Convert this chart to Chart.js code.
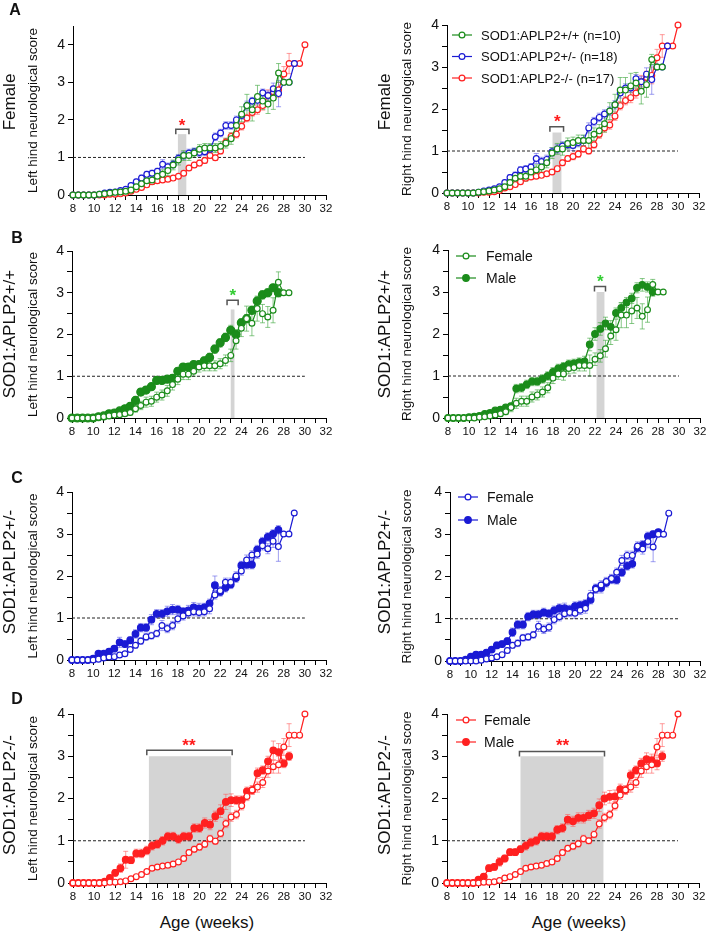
<!DOCTYPE html>
<html>
<head>
<meta charset="utf-8">
<script src="https://cdn.jsdelivr.net/npm/chart.js@4.4.1/dist/chart.umd.min.js"></script>
<style>
body { margin: 0; background: #fff; }
#fig { position: relative; width: 709px; height: 931px; overflow: hidden; font-family: "Liberation Sans", Arial, sans-serif; color: #111; }
#fig canvas { position: absolute; }
.lbl { position: absolute; white-space: nowrap; transform: translate(-50%, -50%); line-height: 1; }
.rot { transform: translate(-50%, -50%) rotate(-90deg); }
.letter { font-weight: bold; font-size: 16px; }
</style>
</head>
<body>
<div id="fig"></div>
<script>
// weeks of age, one point every half week
const weeks = [8, 8.5, 9, 9.5, 10, 10.5, 11, 11.5, 12, 12.5, 13, 13.5, 14, 14.5, 15, 15.5, 16, 16.5, 17, 17.5,
  18, 18.5, 19, 19.5, 20, 20.5, 21, 21.5, 22, 22.5, 23, 23.5, 24, 24.5, 25, 25.5, 26, 26.5, 27, 27.5,
  28, 28.5, 29, 29.5, 30];

// SOD1:APLP2+/+  (mean score / SEM)
const wtF_L = [0,0,0,0,0,0.02,0.03,0.05,0.07,0.08,0.1,0.13,0.22,0.3,0.38,0.4,0.5,0.55,0.65,0.8,0.93,1.05,1.05,1.12,1.22,1.25,1.25,1.25,1.3,1.38,1.5,1.85,2.15,2.38,2.27,2.62,2.5,2.42,2.58,3.25,3.0,3.0];
const wtF_L_err = [0,0,0,0,0,0.02,0.03,0.03,0.04,0.04,0.05,0.06,0.08,0.1,0.12,0.12,0.12,0.12,0.13,0.13,0.13,0.13,0.13,0.12,0.12,0.12,0.12,0.12,0.12,0.13,0.15,0.2,0.2,0.3,0.3,0.3,0.22,0.25,0.3,0.25,0,0];
const wtM_L = [0,0,0,0,0,0.03,0.05,0.1,0.12,0.17,0.22,0.28,0.42,0.62,0.67,0.75,0.9,0.9,0.93,0.95,1.12,1.22,1.22,1.28,1.28,1.37,1.45,1.65,1.8,1.93,2.1,2.0,2.28,2.38,2.58,2.8,2.95,3.0,3.12,3.0];
const wtM_L_err = [0,0,0,0,0,0.02,0.03,0.04,0.05,0.05,0.06,0.07,0.08,0.08,0.08,0.08,0.08,0.08,0.08,0.08,0.08,0.08,0.08,0.08,0.08,0.09,0.1,0.1,0.1,0.1,0.12,0.12,0.1,0.1,0.1,0.1,0.1,0.1,0.08,0.1];
const wtF_R = [0,0,0,0,0,0,0.02,0.03,0.05,0.07,0.1,0.15,0.25,0.35,0.4,0.4,0.5,0.55,0.62,0.72,0.95,1.05,1.05,1.18,1.2,1.25,1.25,1.25,1.4,1.48,1.65,1.95,2.1,2.45,2.45,2.55,2.62,2.42,2.58,3.18,3.0,3.0];
const wtF_R_err = [0,0,0,0,0,0,0.02,0.03,0.04,0.05,0.06,0.07,0.1,0.12,0.12,0.12,0.12,0.12,0.12,0.12,0.13,0.13,0.15,0.13,0.13,0.13,0.13,0.25,0.15,0.15,0.2,0.2,0.25,0.3,0.3,0.3,0.25,0.3,0.3,0.12,0,0];
const wtM_R = [0,0,0,0,0.02,0.03,0.05,0.1,0.12,0.18,0.2,0.25,0.28,0.7,0.72,0.8,0.87,0.87,0.93,1.0,1.1,1.18,1.22,1.28,1.3,1.33,1.35,1.75,2.0,2.12,2.25,2.17,2.5,2.62,2.75,2.85,3.1,3.17,3.12,3.0];
const wtM_R_err = [0,0,0,0,0.02,0.02,0.03,0.04,0.05,0.05,0.06,0.06,0.07,0.1,0.1,0.1,0.1,0.1,0.1,0.1,0.1,0.1,0.1,0.1,0.1,0.1,0.12,0.15,0.15,0.15,0.15,0.15,0.12,0.12,0.12,0.12,0.12,0.15,0.12,0.1];

// SOD1:APLP2+/-
const hetF_L = [0,0,0,0,0,0.02,0.05,0.07,0.08,0.12,0.15,0.25,0.35,0.45,0.55,0.58,0.63,0.82,0.75,0.82,0.98,1.05,1.12,1.15,1.13,1.15,1.22,1.55,1.65,1.85,1.85,2.0,2.12,2.38,2.5,2.52,2.72,2.65,2.83,2.7,3.0,3.0,3.5];
const hetF_L_err = [0,0,0,0,0,0.02,0.03,0.03,0.04,0.05,0.05,0.06,0.07,0.08,0.08,0.08,0.08,0.12,0.1,0.1,0.1,0.1,0.1,0.1,0.1,0.1,0.12,0.1,0.1,0.1,0.1,0.1,0.1,0.12,0.1,0.1,0.1,0.12,0.15,0.35,0,0,0];
const hetM_L = [0,0,0,0,0.03,0.15,0.15,0.2,0.27,0.42,0.38,0.47,0.62,0.77,0.77,0.96,1.1,1.1,1.16,1.2,1.2,1.15,1.18,1.25,1.23,1.25,1.35,1.78,1.62,1.72,1.8,1.95,2.25,2.27,2.27,2.63,2.82,2.93,3.0,3.1];
const hetM_L_err = [0,0,0,0,0.02,0.04,0.05,0.05,0.06,0.12,0.08,0.08,0.1,0.1,0.1,0.12,0.1,0.1,0.12,0.12,0.1,0.1,0.12,0.12,0.12,0.1,0.1,0.22,0.1,0.1,0.1,0.1,0.1,0.1,0.1,0.1,0.1,0.1,0.1,0.1];
const hetF_R = [0,0,0,0,0,0,0.02,0.05,0.07,0.1,0.15,0.25,0.37,0.42,0.55,0.57,0.62,0.82,0.75,0.8,0.98,1.05,1.12,1.15,1.13,1.2,1.25,1.55,1.7,1.8,1.88,1.95,2.1,2.38,2.5,2.5,2.72,2.65,2.83,2.7,3.0,3.0,3.5];
const hetF_R_err = [0,0,0,0,0,0,0.02,0.03,0.04,0.05,0.05,0.06,0.07,0.08,0.08,0.08,0.08,0.12,0.1,0.1,0.1,0.1,0.1,0.1,0.12,0.1,0.12,0.12,0.1,0.1,0.1,0.1,0.1,0.12,0.1,0.1,0.1,0.12,0.15,0.35,0,0,0];
const hetM_R = [0,0,0,0.03,0.1,0.15,0.15,0.2,0.27,0.37,0.4,0.47,0.68,0.86,0.86,1.05,1.1,1.1,1.15,1.12,1.2,1.25,1.25,1.22,1.3,1.32,1.35,1.45,1.72,1.73,1.85,1.93,1.92,2.1,2.25,2.3,2.68,2.75,2.95,3.0,3.05];
const hetM_R_err = [0,0,0,0.02,0.04,0.05,0.05,0.05,0.06,0.08,0.08,0.08,0.1,0.1,0.1,0.1,0.1,0.1,0.1,0.1,0.1,0.1,0.12,0.1,0.1,0.1,0.1,0.1,0.1,0.12,0.1,0.1,0.1,0.1,0.1,0.1,0.1,0.1,0.1,0.08,0.05];

// SOD1:APLP2-/-
const koF_L = [0,0,0,0,0,0,0,0.02,0.02,0.03,0.05,0.1,0.15,0.2,0.27,0.35,0.38,0.4,0.42,0.45,0.5,0.58,0.72,0.8,0.85,0.92,1.05,0.99,1.17,1.41,1.56,1.62,1.83,2.05,2.2,2.27,2.38,2.65,2.75,2.8,3.22,3.5,3.5,3.5,4.0];
const koF_L_err = [0,0,0,0,0,0,0,0.02,0.02,0.02,0.03,0.04,0.04,0.05,0.05,0.05,0.05,0.05,0.05,0.05,0.05,0.06,0.07,0.07,0.08,0.08,0.08,0.07,0.08,0.1,0.1,0.1,0.1,0.1,0.1,0.12,0.12,0.15,0.15,0.2,0.2,0.27,0,0,0];
const koM_L = [0,0,0,0,0,0,0.03,0.12,0.24,0.35,0.55,0.54,0.7,0.7,0.77,0.88,0.92,1.0,1.1,1.1,1.04,1.1,1.1,1.3,1.3,1.42,1.38,1.58,1.7,1.92,1.96,1.96,1.96,2.17,2.2,2.6,2.67,2.88,3.14,3.1,2.83,3.0];
const koM_L_err = [0,0,0,0,0,0,0.03,0.06,0.08,0.1,0.2,0.08,0.1,0.1,0.1,0.1,0.1,0.1,0.1,0.1,0.1,0.1,0.1,0.1,0.1,0.12,0.12,0.12,0.15,0.18,0.15,0.1,0.1,0.1,0.1,0.12,0.1,0.12,0.22,0.2,0.1,0.1];
const koF_R = [0,0,0,0,0,0,0,0.02,0.02,0.03,0.06,0.12,0.15,0.2,0.27,0.35,0.38,0.4,0.42,0.46,0.5,0.58,0.72,0.82,0.87,0.93,1.05,1.0,1.15,1.4,1.55,1.62,1.83,2.08,2.2,2.27,2.38,2.65,2.75,2.8,3.22,3.5,3.5,3.5,4.0];
const koF_R_err = [0,0,0,0,0,0,0,0.02,0.02,0.02,0.03,0.04,0.04,0.05,0.05,0.05,0.05,0.05,0.05,0.05,0.05,0.06,0.07,0.07,0.08,0.08,0.08,0.07,0.08,0.1,0.1,0.1,0.1,0.1,0.1,0.12,0.12,0.15,0.15,0.2,0.2,0.27,0,0,0];
const koM_R = [0,0,0,0,0,0,0.08,0.15,0.35,0.38,0.5,0.58,0.73,0.73,0.8,0.88,0.96,1.0,1.1,1.1,1.1,1.26,1.3,1.5,1.46,1.54,1.54,1.6,1.65,1.84,2.0,2.04,2.05,2.22,2.2,2.55,2.67,2.83,2.93,2.9,2.83,3.0];
const koM_R_err = [0,0,0,0,0,0,0.04,0.06,0.08,0.08,0.1,0.08,0.08,0.08,0.08,0.1,0.1,0.1,0.1,0.1,0.1,0.1,0.1,0.12,0.12,0.12,0.12,0.12,0.12,0.15,0.15,0.15,0.15,0.12,0.1,0.12,0.1,0.12,0.15,0.15,0.15,0.12];

// threshold line (score 1) and significance windows
const refX = [8, 30];
const refY = 1;
const sigAL = { x0: 17.95, x1: 18.75, top: 1.62, b0: 17.75, b1: 19.0, by: 1.75, sx: 18.35, sy: 1.97, mark: '*' };
const sigAR = { x0: 18.05, x1: 18.9, top: 1.44, b0: 17.8, b1: 19.1, by: 1.58, sx: 18.5, sy: 1.8, mark: '*' };
const sigBL = { x0: 23.0, x1: 23.35, top: 2.6, b0: 22.65, b1: 23.7, by: 2.82, sx: 23.2, sy: 3.04, mark: '*' };
const sigBR = { x0: 22.15, x1: 22.9, top: 3.0, b0: 21.95, b1: 23.0, by: 3.13, sx: 22.5, sy: 3.35, mark: '*' };
const sigDL = { x0: 15.2, x1: 23.0, top: 3.0, b0: 15.0, b1: 23.1, by: 3.14, sx: 19.0, sy: 3.37, mark: '**' };
const sigDR = { x0: 15.0, x1: 22.9, top: 3.0, b0: 14.9, b1: 23.0, by: 3.11, sx: 19.0, sy: 3.35, mark: '**' };

const GREEN = '#1b8c1b', BLUE = '#1a1ad4', RED = '#ff2020';
const ERR = { [GREEN]: 'rgba(70,170,70,0.65)', [BLUE]: 'rgba(80,80,230,0.55)', [RED]: 'rgba(255,90,90,0.6)' };
const STAR = { [GREEN]: '#33cc33', [RED]: '#ff1a1a' };
const FONT = '"Liberation Sans", Arial, sans-serif';

Chart.defaults.font.family = FONT;
Chart.defaults.color = '#111';

function series(label, vals, errs, color, filled, r) {
  return {
    label: label,
    data: vals.map((v, i) => ({ x: weeks[i], y: v })),
    err: errs,
    errColor: ERR[color],
    borderColor: color,
    borderWidth: 1.2,
    pointRadius: r || 2.9,
    pointHoverRadius: r || 2.9,
    pointBorderWidth: 1.2,
    pointBackgroundColor: filled ? color : '#fff',
    pointBorderColor: color,
    tension: 0,
    clip: false
  };
}

function refLine() {
  return {
    label: '', data: refX.map(x => ({ x: x, y: refY })),
    borderColor: '#222', borderWidth: 1, borderDash: [3, 2], pointRadius: 0
  };
}

// gray window, bracket and star
const sigPlugin = {
  id: 'sig',
  beforeDatasetsDraw(chart, args, o) {
    const s = o.win;
    if (!s) return;
    const { ctx, scales: { x, y } } = chart;
    ctx.save();
    ctx.fillStyle = '#d4d4d4';
    const l = x.getPixelForValue(s.x0), r = x.getPixelForValue(s.x1);
    const t = y.getPixelForValue(s.top), b = y.getPixelForValue(0);
    ctx.fillRect(l, t, r - l, b - t);
    const bl = x.getPixelForValue(s.b0), br = x.getPixelForValue(s.b1), by = y.getPixelForValue(s.by);
    ctx.strokeStyle = '#555';
    ctx.lineWidth = 1.5;
    ctx.beginPath();
    ctx.moveTo(bl, by + 5); ctx.lineTo(bl, by); ctx.lineTo(br, by); ctx.lineTo(br, by + 5);
    ctx.stroke();
    ctx.fillStyle = o.starColor;
    ctx.font = 'bold 17px ' + FONT;
    ctx.textAlign = 'center';
    ctx.textBaseline = 'alphabetic';
    ctx.fillText(s.mark, x.getPixelForValue(s.sx), y.getPixelForValue(s.sy) + 10);
    ctx.restore();
  }
};

// mean +/- SEM
const errorBars = {
  id: 'errorBars',
  beforeDatasetsDraw(chart) {
    const { ctx, scales: { x, y } } = chart;
    ctx.save();
    ctx.lineWidth = 1;
    chart.data.datasets.slice().reverse().forEach(ds => {
      if (!ds.err) return;
      ctx.strokeStyle = ds.errColor;
      ds.data.forEach((p, i) => {
        const e = ds.err[i] || 0;
        if (!e) return;
        const px = x.getPixelForValue(p.x);
        const y1 = y.getPixelForValue(p.y + e), y0 = y.getPixelForValue(Math.max(0, p.y - e));
        ctx.beginPath();
        ctx.moveTo(px, y0); ctx.lineTo(px, y1);
        ctx.moveTo(px - 2.5, y1); ctx.lineTo(px + 2.5, y1);
        ctx.moveTo(px - 2.5, y0); ctx.lineTo(px + 2.5, y0);
        ctx.stroke();
      });
    });
    ctx.restore();
  }
};

// GraphPad style key: line segment with marker
const keyPlugin = {
  id: 'key',
  afterDraw(chart, args, o) {
    if (!o.at) return;
    const ctx = chart.ctx;
    const items = chart.data.datasets.filter(d => d.err);
    ctx.save();
    ctx.font = o.size + 'px ' + FONT;
    ctx.textBaseline = 'middle';
    ctx.textAlign = 'left';
    items.forEach((ds, i) => {
      const yy = o.at[1] + i * o.gap;
      const x0 = o.at[0], x1 = o.at[0] + 20, xm = (x0 + x1) / 2;
      ctx.strokeStyle = ds.borderColor;
      ctx.lineWidth = 1.2;
      ctx.beginPath(); ctx.moveTo(x0, yy); ctx.lineTo(x1, yy); ctx.stroke();
      ctx.beginPath(); ctx.arc(xm, yy, ds.pointRadius, 0, Math.PI * 2);
      ctx.fillStyle = ds.pointBackgroundColor; ctx.fill(); ctx.stroke();
      ctx.fillStyle = '#111';
      ctx.fillText(ds.label, o.at[0] + o.textGap, yy + 1);
    });
    ctx.restore();
  }
};

const L_HIND = 'Left hind neurological score', R_HIND = 'Right hind neurological score';

const panels = [
  { col: 0, area: [73, 26, 326, 195], yMax: 4.5, title: L_HIND, win: sigAL, star: RED,
    sets: [series('SOD1:APLP2+/+ (n=10)', wtF_L, wtF_L_err, GREEN, false), series('SOD1:APLP2+/- (n=18)', hetF_L, hetF_L_err, BLUE, false), series('SOD1:APLP2-/- (n=17)', koF_L, koF_L_err, RED, false)] },
  { col: 1, area: [447, 25, 699, 193], yMax: 4, title: R_HIND, win: sigAR, star: RED, key: { at: [452, 35], gap: 21.5, size: 13, textGap: 29 },
    sets: [series('SOD1:APLP2+/+ (n=10)', wtF_R, wtF_R_err, GREEN, false), series('SOD1:APLP2+/- (n=18)', hetF_R, hetF_R_err, BLUE, false), series('SOD1:APLP2-/- (n=17)', koF_R, koF_R_err, RED, false)] },
  { col: 0, area: [72, 251, 326, 418], yMax: 4, title: L_HIND, win: sigBL, star: GREEN,
    sets: [series('Female', wtF_L, wtF_L_err, GREEN, false), series('Male', wtM_L, wtM_L_err, GREEN, true, 4)] },
  { col: 1, area: [448, 250, 700, 418], yMax: 4, title: R_HIND, win: sigBR, star: GREEN, key: { at: [456, 256], gap: 22, size: 14, textGap: 30 },
    sets: [series('Female', wtF_R, wtF_R_err, GREEN, false), series('Male', wtM_R, wtM_R_err, GREEN, true, 3.3)] },
  { col: 0, area: [72, 492, 326, 660], yMax: 4, title: L_HIND,
    sets: [series('Female', hetF_L, hetF_L_err, BLUE, false), series('Male', hetM_L, hetM_L_err, BLUE, true, 3.3)] },
  { col: 1, area: [450, 492, 700, 661], yMax: 4, title: R_HIND, key: { at: [458, 497], gap: 23, size: 14, textGap: 29 },
    sets: [series('Female', hetF_R, hetF_R_err, BLUE, false), series('Male', hetM_R, hetM_R_err, BLUE, true, 3.3)] },
  { col: 0, area: [73, 714, 326, 883], yMax: 4, title: L_HIND, win: sigDL, star: RED,
    sets: [series('Female', koF_L, koF_L_err, RED, false), series('Male', koM_L, koM_L_err, RED, true, 3.3)] },
  { col: 1, area: [447, 714, 699, 883], yMax: 4, title: R_HIND, win: sigDR, star: RED, key: { at: [456, 720], gap: 22, size: 14, textGap: 28 },
    sets: [series('Female', koF_R, koF_R_err, RED, false), series('Male', koM_R, koM_R_err, RED, true, 3.3)] }
];

const fig = document.getElementById('fig');

panels.forEach(p => {
  const [l, t, r, b] = p.area;
  const cx = p.col ? 354 : 0, cw = p.col ? 355 : 354;
  const cy = t - 25, ch = b - t + 50;
  const titleLeft = p.col ? 399 : 25;
  const cv = document.createElement('canvas');
  cv.width = cw; cv.height = ch;
  cv.style.left = cx + 'px'; cv.style.top = cy + 'px';
  cv.style.width = cw + 'px'; cv.style.height = ch + 'px';
  fig.appendChild(cv);
  const key = p.key ? { at: [p.key.at[0] - cx, p.key.at[1] - cy], gap: p.key.gap, size: p.key.size, textGap: p.key.textGap } : {};
  new Chart(cv, {
    type: 'line',
    data: { datasets: p.sets.concat([refLine()]) },
    options: {
      responsive: false,
      animation: false,
      events: [],
      layout: { padding: { left: titleLeft - cx, right: cx + cw - r, top: 25, bottom: 5 } },
      scales: {
        x: {
          type: 'linear', min: 8, max: 32,
          afterFit: s => { s.height = 20; },
          ticks: { stepSize: 1, autoSkip: false, maxRotation: 0, padding: 2, font: { size: 11.5 },
            callback: v => (v % 2 === 0 ? v : '') },
          grid: { drawOnChartArea: false, drawTicks: true, tickLength: 5, color: '#000' },
          border: { color: '#000', width: 1 }
        },
        y: {
          min: 0, max: p.yMax,
          afterFit: s => { s.width = l - titleLeft; },
          ticks: { stepSize: 0.5, padding: 3, font: { size: 14 },
            callback: v => (Number.isInteger(v) ? v : '') },
          grid: { drawOnChartArea: false, drawTicks: true, tickLength: 5, color: '#000' },
          border: { color: '#000', width: 1 },
          title: { display: true, text: p.title, padding: 0, font: { size: 13.5 }, color: '#111' }
        }
      },
      plugins: {
        legend: { display: false },
        tooltip: { enabled: false },
        sig: { win: p.win, starColor: STAR[p.star] },
        key: key
      }
    },
    plugins: [sigPlugin, errorBars, keyPlugin]
  });
});

// outer row labels, panel letters and x titles
const texts = [
  ['Female', 9, 102, 17, true], ['Female', 384, 102, 17, true],
  ['SOD1:APLP2+/+', 9, 334, 17, true], ['SOD1:APLP2+/+', 384, 334, 17, true],
  ['SOD1:APLP2+/-', 9, 572, 17, true], ['SOD1:APLP2+/-', 384, 572, 17, true],
  ['SOD1:APLP2-/-', 9, 795, 17, true], ['SOD1:APLP2-/-', 384, 795, 17, true],
  ['Age (weeks)', 207, 922, 17, false], ['Age (weeks)', 579, 922, 17, false]
];
texts.forEach(([s, x, y, size, rot]) => {
  const d = document.createElement('div');
  d.className = 'lbl' + (rot ? ' rot' : '');
  d.textContent = s;
  d.style.left = x + 'px'; d.style.top = y + 'px'; d.style.fontSize = size + 'px';
  fig.appendChild(d);
});
[['A', 15, 10], ['B', 17, 238], ['C', 17, 478], ['D', 17, 699]].forEach(([s, x, y]) => {
  const d = document.createElement('div');
  d.className = 'lbl letter';
  d.textContent = s;
  d.style.left = x + 'px'; d.style.top = y + 'px';
  fig.appendChild(d);
});
</script>
</body>
</html>
